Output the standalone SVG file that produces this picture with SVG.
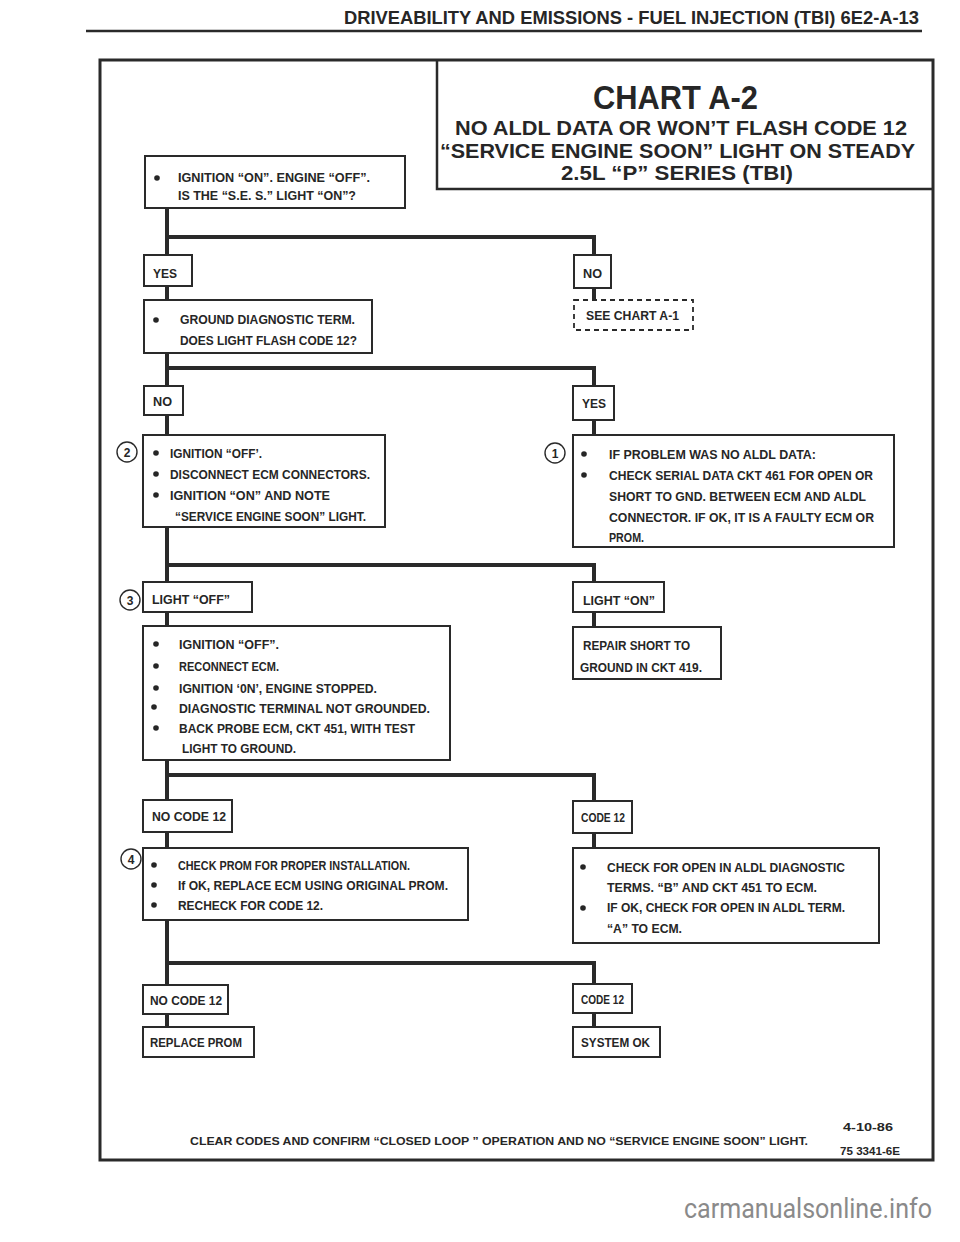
<svg xmlns="http://www.w3.org/2000/svg" width="960" height="1242" viewBox="0 0 960 1242">
<style>
.t{font-family:"Liberation Sans",Arial,sans-serif;font-weight:bold;fill:#262626}
.s{font-size:13.5px}
.ttl{font-size:20.5px}
.box{fill:#fff;stroke:#2a2a2a;stroke-width:2}
.dash{fill:#fff;stroke:#2a2a2a;stroke-width:1.8;stroke-dasharray:5 4}
.conn{stroke:#2a2a2a;stroke-width:4;fill:none;stroke-linecap:square}
.bul{fill:#262626}
.num{fill:#fff;stroke:#2a2a2a;stroke-width:1.4}
.nt{font-family:"Liberation Sans",Arial,sans-serif;font-weight:bold;font-size:12px;fill:#262626;text-anchor:middle}
</style>
<rect width="960" height="1242" fill="#fff"/>

<g id="page-header">
<text class="t" x="344" y="24" font-size="18" textLength="575" lengthAdjust="spacingAndGlyphs">DRIVEABILITY AND EMISSIONS - FUEL INJECTION (TBI)  6E2-A-13</text>
<line x1="86" y1="31" x2="922" y2="31" stroke="#2a2a2a" stroke-width="2.5"/>
</g>

<g id="frame">
<rect x="100" y="60" width="833" height="1100" fill="none" stroke="#2a2a2a" stroke-width="3"/>
</g>

<g id="title">
<path d="M437 60 V189 H933" fill="none" stroke="#2a2a2a" stroke-width="2.5"/>
<text class="t" x="593" y="109" font-size="34" textLength="165" lengthAdjust="spacingAndGlyphs">CHART A-2</text>
<text class="t ttl" x="455" y="135" textLength="452" lengthAdjust="spacingAndGlyphs">NO ALDL DATA OR WON’T FLASH CODE 12</text>
<text class="t ttl" x="440" y="158" textLength="475" lengthAdjust="spacingAndGlyphs">“SERVICE ENGINE SOON” LIGHT ON STEADY</text>
<text class="t ttl" x="561" y="180" textLength="232" lengthAdjust="spacingAndGlyphs">2.5L “P” SERIES  (TBI)</text>
</g>

<g id="connectors">
<path class="conn" d="M167 208 V255"/>
<path class="conn" d="M167 237 H594 V255"/>
<path class="conn" d="M167 286 V300"/>
<path class="conn" d="M594 288 V300"/>
<path class="conn" d="M167 353 V386"/>
<path class="conn" d="M167 368 H594 V386"/>
<path class="conn" d="M167 415 V435"/>
<path class="conn" d="M594 420 V435"/>
<path class="conn" d="M167 527 V582"/>
<path class="conn" d="M167 565 H594 V582"/>
<path class="conn" d="M167 612 V626"/>
<path class="conn" d="M594 612 V627"/>
<path class="conn" d="M167 760 V800"/>
<path class="conn" d="M167 775 H594 V801"/>
<path class="conn" d="M167 832 V848"/>
<path class="conn" d="M594 833 V848"/>
<path class="conn" d="M167 920 V985"/>
<path class="conn" d="M167 963 H594 V984"/>
<path class="conn" d="M167 1014 V1027"/>
<path class="conn" d="M594 1013 V1027"/>
</g>

<g id="n-start">
<rect class="box" x="145" y="156" width="260" height="52"/>
<circle class="bul" cx="157" cy="178" r="2.8"/>
<text class="t" x="178" y="182" font-size="12" textLength="192" lengthAdjust="spacingAndGlyphs">IGNITION “ON”. ENGINE “OFF”.</text>
<text class="t" x="178" y="200" font-size="12" textLength="178" lengthAdjust="spacingAndGlyphs">IS THE “S.E. S.” LIGHT “ON”?</text>
</g>

<g id="n-yes1">
<rect class="box" x="144" y="255" width="48" height="31"/>
<text class="t s" x="153" y="278" textLength="24" lengthAdjust="spacingAndGlyphs">YES</text>
</g>

<g id="n-no1">
<rect class="box" x="574" y="255" width="37" height="33"/>
<text class="t s" x="583" y="278" textLength="19" lengthAdjust="spacingAndGlyphs">NO</text>
</g>

<g id="n-ground">
<rect class="box" x="144" y="300" width="228" height="53"/>
<circle class="bul" cx="156" cy="320" r="2.8"/>
<text class="t s" x="180" y="324" textLength="175" lengthAdjust="spacingAndGlyphs">GROUND DIAGNOSTIC TERM.</text>
<text class="t s" x="180" y="345" textLength="177" lengthAdjust="spacingAndGlyphs">DOES LIGHT FLASH CODE 12?</text>
</g>

<g id="n-see-a1">
<rect class="dash" x="574" y="300" width="119" height="30"/>
<text class="t s" x="586" y="320" textLength="93" lengthAdjust="spacingAndGlyphs">SEE CHART A-1</text>
</g>

<g id="n-no2">
<rect class="box" x="144" y="386" width="39" height="29"/>
<text class="t s" x="153" y="406" textLength="19" lengthAdjust="spacingAndGlyphs">NO</text>
</g>

<g id="n-yes2">
<rect class="box" x="573" y="386" width="41" height="34"/>
<text class="t s" x="582" y="408" textLength="24" lengthAdjust="spacingAndGlyphs">YES</text>
</g>

<g id="n-step2">
<circle class="num" cx="127" cy="452" r="10"/>
<text class="nt" x="127" y="456.5">2</text>
<rect class="box" x="143" y="435" width="242" height="92"/>
<circle class="bul" cx="156" cy="453" r="2.8"/>
<circle class="bul" cx="156" cy="474" r="2.8"/>
<circle class="bul" cx="156" cy="495" r="2.8"/>
<text class="t s" x="170" y="458" textLength="92" lengthAdjust="spacingAndGlyphs">IGNITION “OFF’.</text>
<text class="t s" x="170" y="479" textLength="200" lengthAdjust="spacingAndGlyphs">DISCONNECT ECM CONNECTORS.</text>
<text class="t s" x="170" y="500" textLength="160" lengthAdjust="spacingAndGlyphs">IGNITION “ON” AND NOTE</text>
<text class="t s" x="175" y="521" textLength="191" lengthAdjust="spacingAndGlyphs">“SERVICE ENGINE SOON” LIGHT.</text>
</g>

<g id="n-step1">
<circle class="num" cx="555" cy="453" r="10"/>
<text class="nt" x="555" y="457.5">1</text>
<rect class="box" x="573" y="435" width="321" height="112"/>
<circle class="bul" cx="584" cy="454" r="2.8"/>
<circle class="bul" cx="584" cy="475" r="2.8"/>
<text class="t s" x="609" y="459" textLength="207" lengthAdjust="spacingAndGlyphs">IF PROBLEM WAS NO ALDL DATA:</text>
<text class="t s" x="609" y="480" textLength="264" lengthAdjust="spacingAndGlyphs">CHECK SERIAL DATA CKT 461 FOR OPEN OR</text>
<text class="t s" x="609" y="501" textLength="257" lengthAdjust="spacingAndGlyphs">SHORT TO GND. BETWEEN ECM AND ALDL</text>
<text class="t s" x="609" y="522" textLength="265" lengthAdjust="spacingAndGlyphs">CONNECTOR.  IF OK, IT IS A FAULTY ECM OR</text>
<text class="t s" x="609" y="542" textLength="35" lengthAdjust="spacingAndGlyphs">PROM.</text>
</g>

<g id="n-light-off">
<circle class="num" cx="130" cy="600" r="10"/>
<text class="nt" x="130" y="604.5">3</text>
<rect class="box" x="143" y="582" width="109" height="30"/>
<text class="t s" x="152" y="604" textLength="78" lengthAdjust="spacingAndGlyphs">LIGHT “OFF”</text>
</g>

<g id="n-light-on">
<rect class="box" x="573" y="582" width="91" height="30"/>
<text class="t s" x="583" y="605" textLength="72" lengthAdjust="spacingAndGlyphs">LIGHT “ON”</text>
</g>

<g id="n-step3">
<rect class="box" x="143" y="626" width="307" height="134"/>
<circle class="bul" cx="156" cy="644" r="2.8"/>
<circle class="bul" cx="156" cy="666" r="2.8"/>
<circle class="bul" cx="156" cy="688" r="2.8"/>
<circle class="bul" cx="154" cy="707" r="2.8"/>
<circle class="bul" cx="156" cy="728" r="2.8"/>
<text class="t s" x="179" y="649" textLength="100" lengthAdjust="spacingAndGlyphs">IGNITION “OFF”.</text>
<text class="t s" x="179" y="671" textLength="100" lengthAdjust="spacingAndGlyphs">RECONNECT ECM.</text>
<text class="t s" x="179" y="693" textLength="198" lengthAdjust="spacingAndGlyphs">IGNITION ‘0N’, ENGINE STOPPED.</text>
<text class="t s" x="179" y="713" textLength="251" lengthAdjust="spacingAndGlyphs">DIAGNOSTIC TERMINAL NOT GROUNDED.</text>
<text class="t s" x="179" y="733" textLength="236" lengthAdjust="spacingAndGlyphs">BACK PROBE  ECM, CKT 451, WITH TEST</text>
<text class="t s" x="182" y="753" textLength="114" lengthAdjust="spacingAndGlyphs">LIGHT TO GROUND.</text>
</g>

<g id="n-repair">
<rect class="box" x="573" y="627" width="148" height="52"/>
<text class="t s" x="583" y="650" textLength="107" lengthAdjust="spacingAndGlyphs">REPAIR SHORT TO</text>
<text class="t s" x="580" y="672" textLength="122" lengthAdjust="spacingAndGlyphs">GROUND IN CKT 419.</text>
</g>

<g id="n-nocode-a">
<rect class="box" x="143" y="800" width="89" height="32"/>
<text class="t s" x="152" y="821" textLength="74" lengthAdjust="spacingAndGlyphs">NO CODE 12</text>
</g>

<g id="n-code-a">
<rect class="box" x="573" y="801" width="59" height="32"/>
<text class="t s" x="581" y="822" textLength="44" lengthAdjust="spacingAndGlyphs">CODE 12</text>
</g>

<g id="n-step4">
<circle class="num" cx="131" cy="859" r="10"/>
<text class="nt" x="131" y="863.5">4</text>
<rect class="box" x="143" y="848" width="325" height="72"/>
<circle class="bul" cx="154" cy="865" r="2.8"/>
<circle class="bul" cx="154" cy="885" r="2.8"/>
<circle class="bul" cx="154" cy="905" r="2.8"/>
<text class="t s" x="178" y="870" textLength="232" lengthAdjust="spacingAndGlyphs">CHECK PROM FOR PROPER INSTALLATION.</text>
<text class="t s" x="178" y="890" textLength="270" lengthAdjust="spacingAndGlyphs">If OK, REPLACE ECM USING ORIGINAL PROM.</text>
<text class="t s" x="178" y="910" textLength="145" lengthAdjust="spacingAndGlyphs">RECHECK FOR CODE 12.</text>
</g>

<g id="n-open">
<rect class="box" x="573" y="848" width="306" height="95"/>
<circle class="bul" cx="583" cy="867" r="2.8"/>
<circle class="bul" cx="583" cy="908" r="2.8"/>
<text class="t s" x="607" y="872" textLength="238" lengthAdjust="spacingAndGlyphs">CHECK FOR OPEN IN ALDL DIAGNOSTIC</text>
<text class="t s" x="607" y="892" textLength="210" lengthAdjust="spacingAndGlyphs">TERMS. “B” AND CKT 451 TO ECM.</text>
<text class="t s" x="607" y="912" textLength="238" lengthAdjust="spacingAndGlyphs">IF OK, CHECK FOR OPEN IN ALDL TERM.</text>
<text class="t s" x="607" y="933" textLength="75" lengthAdjust="spacingAndGlyphs">“A” TO ECM.</text>
</g>

<g id="n-nocode-b">
<rect class="box" x="143" y="985" width="85" height="29"/>
<text class="t s" x="150" y="1005" textLength="72" lengthAdjust="spacingAndGlyphs">NO CODE 12</text>
</g>

<g id="n-replace-prom">
<rect class="box" x="143" y="1027" width="111" height="30"/>
<text class="t s" x="150" y="1047" textLength="92" lengthAdjust="spacingAndGlyphs">REPLACE PROM</text>
</g>

<g id="n-code-b">
<rect class="box" x="573" y="984" width="59" height="29"/>
<text class="t s" x="581" y="1004" textLength="43" lengthAdjust="spacingAndGlyphs">CODE 12</text>
</g>

<g id="n-system-ok">
<rect class="box" x="573" y="1027" width="87" height="30"/>
<text class="t s" x="581" y="1047" textLength="69" lengthAdjust="spacingAndGlyphs">SYSTEM OK</text>
</g>

<g id="footer">
<text class="t" x="190" y="1145" font-size="10.5" textLength="618" lengthAdjust="spacingAndGlyphs">CLEAR CODES AND CONFIRM “CLOSED LOOP ” OPERATION AND NO “SERVICE ENGINE SOON” LIGHT.</text>
<text class="t" x="843" y="1131" font-size="10.5" textLength="50" lengthAdjust="spacingAndGlyphs">4-10-86</text>
<text class="t" x="840" y="1155" font-size="10.5" textLength="60" lengthAdjust="spacingAndGlyphs">75 3341-6E</text>
</g>

<g id="watermark">
<text x="684" y="1218" font-family="Roboto, 'Liberation Sans', sans-serif" font-size="28" fill="#8a8a8a" textLength="248" lengthAdjust="spacingAndGlyphs">carmanualsonline.info</text>
</g>
</svg>
